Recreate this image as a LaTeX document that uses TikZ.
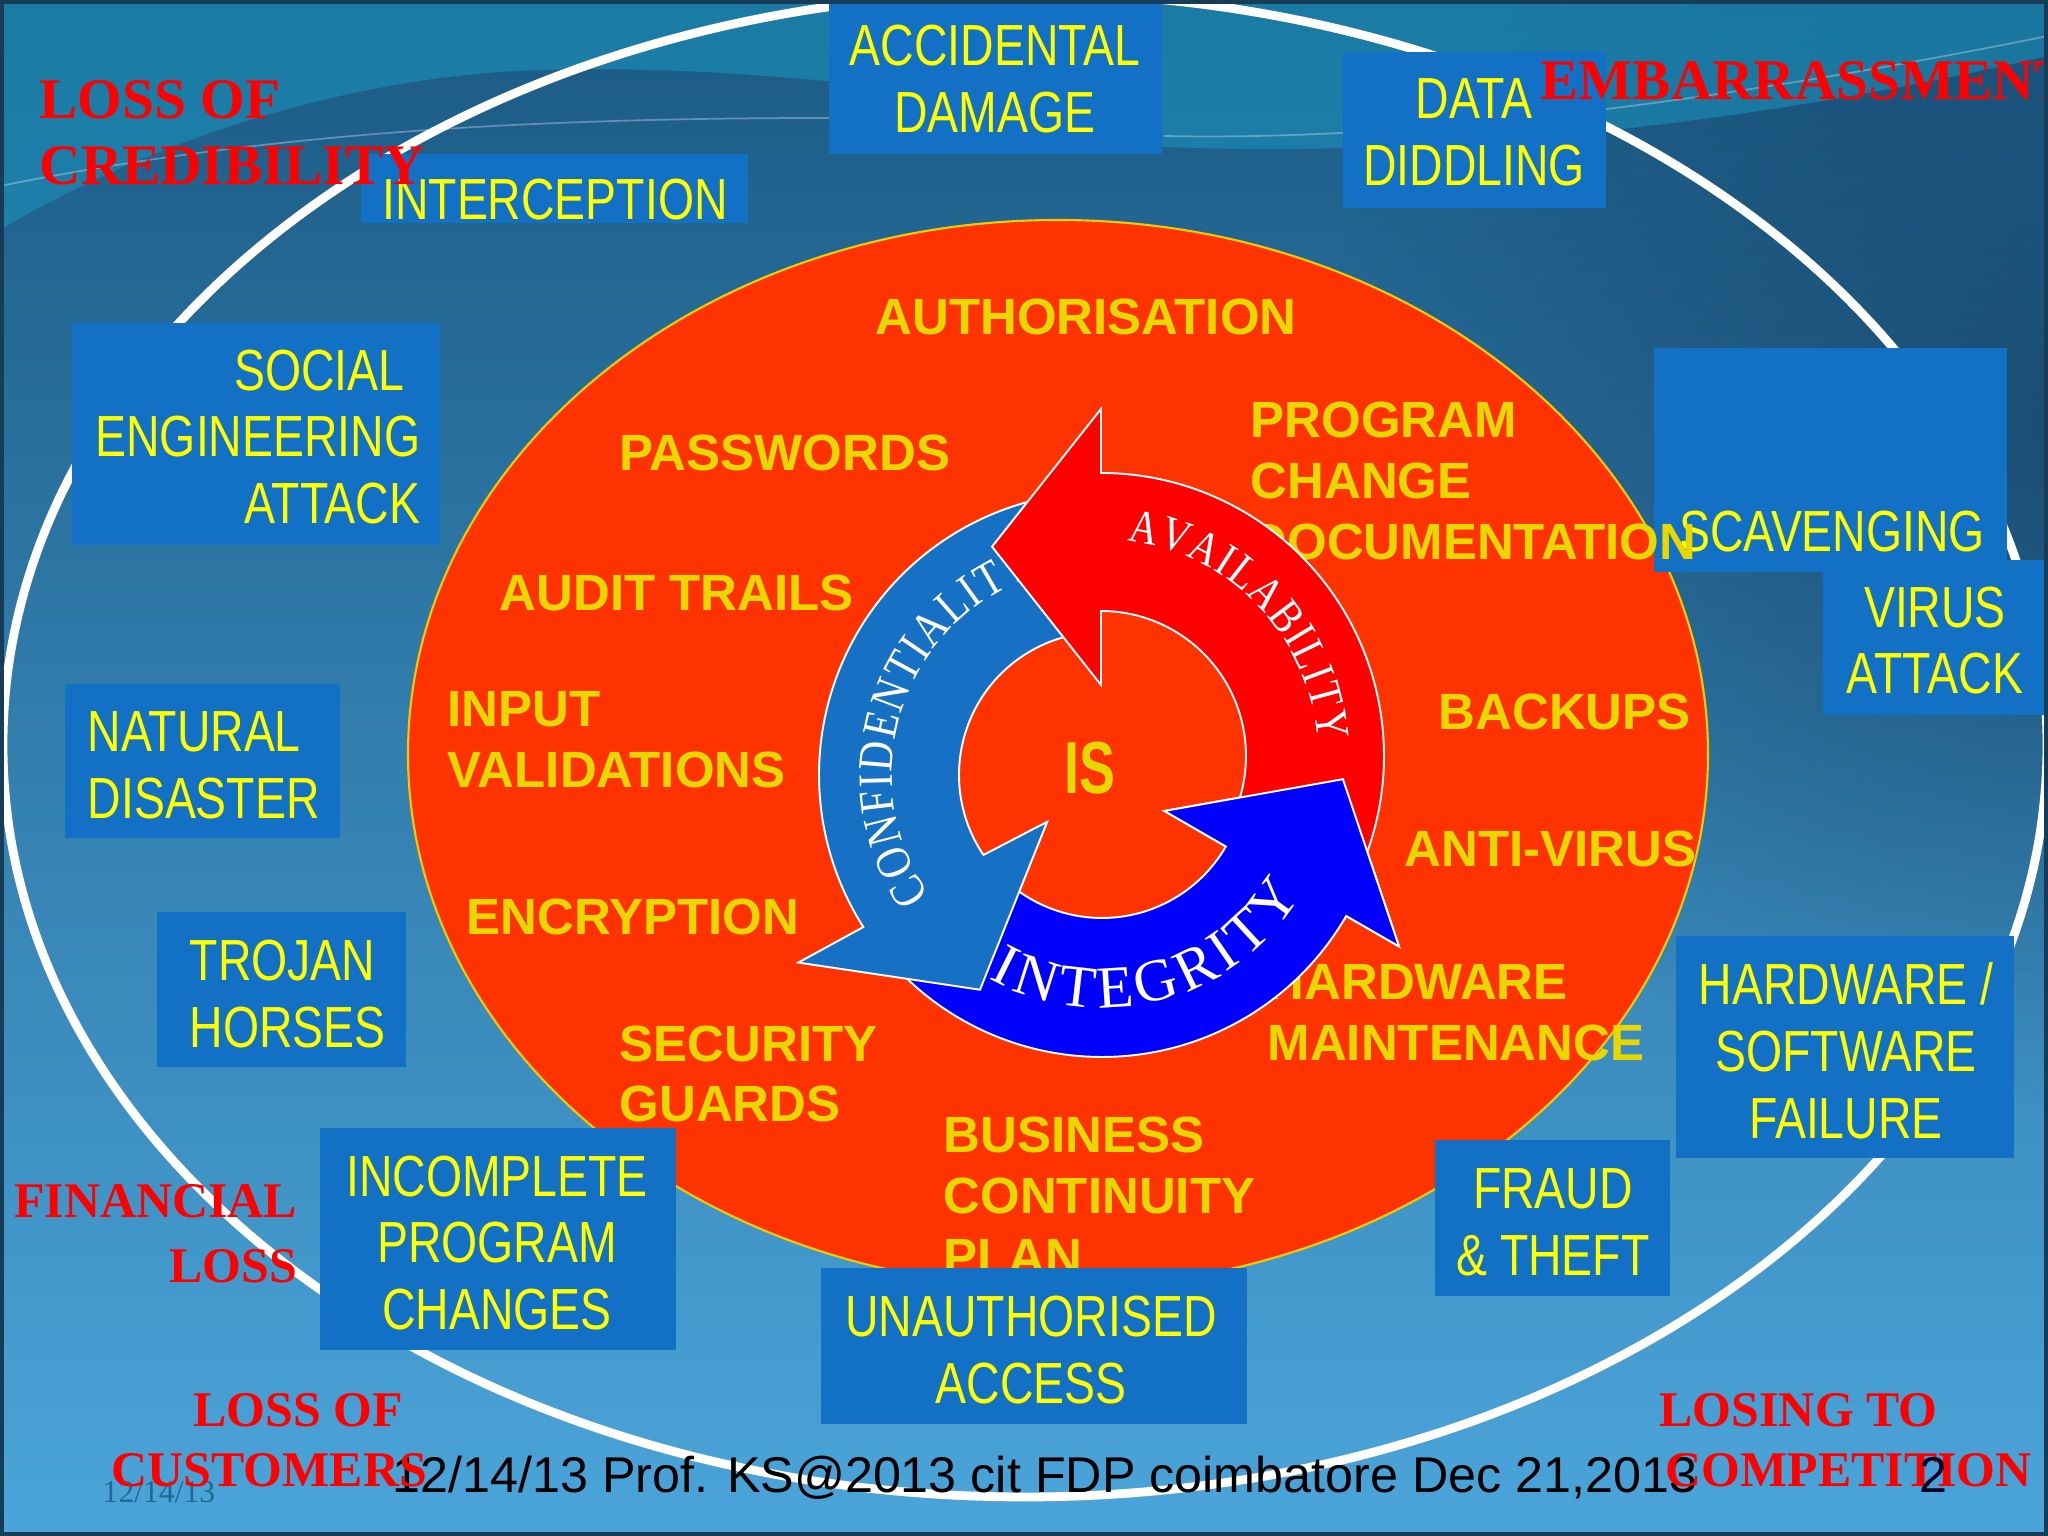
\documentclass[tikz,border=0pt]{standalone}
\usepackage{fontspec}
\usetikzlibrary{decorations.text,fadings}
\newfontfamily\boxfont[FakeStretch=0.8]{Liberation Sans}
\newfontfamily\lblfont{Liberation Sans}
\newfontfamily\redfont{Liberation Serif}
\newfontfamily\isfont[FakeStretch=0.73]{Liberation Sans}
\newfontfamily\arcfont[FakeStretch=0.84]{Liberation Serif}
\newfontfamily\arcfontw{Liberation Serif}
\newcommand\availfont{\arcfont\fontsize{13.5}{13.5}\selectfont}
\newcommand\conffont{\arcfont\fontsize{14}{14}\selectfont}
\newcommand\integfont{\arcfontw\fontsize{17}{17}\selectfont}
\definecolor{bgtop}{HTML}{1B5A84}
\definecolor{bgmid}{HTML}{2A72A0}
\definecolor{bgbot}{HTML}{4BA5DA}
\definecolor{swoosh}{HTML}{1A9BC4}
\definecolor{darkblob}{HTML}{0E2F4F}
\definecolor{boxblue}{HTML}{1270C5}
\definecolor{boxyellow}{HTML}{FFFF00}
\definecolor{lblyellow}{HTML}{E8D800}
\definecolor{orangefill}{HTML}{FF3300}
\definecolor{ovalline}{HTML}{E8D000}
\definecolor{confblue}{HTML}{1670C4}
\definecolor{integblue}{HTML}{0000FF}
\definecolor{redlbl}{HTML}{FF0000}
\definecolor{datecol}{HTML}{1E6A92}
\definecolor{framecol}{HTML}{173C58}
\tikzfading[name=blob, inner color=transparent!45, outer color=transparent!100]
\begin{document}
\begin{tikzpicture}[x=1cm,y=1cm,
  boxfill/.style={fill=boxblue},
  boxtxt/.style={text=boxyellow, font=\boxfont\fontsize{16.5}{19}\selectfont, inner sep=0pt, align=center},
  lbl/.style={text=lblyellow, font=\lblfont\bfseries\fontsize{14.5}{17.3}\selectfont, inner sep=0pt, align=left, anchor=west},
  redbig/.style={text=redlbl, font=\redfont\bfseries\fontsize{16.3}{18.9}\selectfont, inner sep=0pt},
  redsmall/.style={text=redlbl, font=\redfont\bfseries\fontsize{14.2}{18.5}\selectfont, inner sep=0pt},
  arrowline/.style={draw=white, line width=0.55pt, line join=miter},
]
\useasboundingbox (0,0) rectangle (20.48,15.36);
\clip (0,0) rectangle (20.48,15.36);
% ---------- background ----------
\shade[top color=bgtop, middle color=bgmid, bottom color=bgbot] (0,0) rectangle (20.48,15.36);
\fill[darkblob, path fading=blob] (21,10.8) ellipse [x radius=8, y radius=6.5];
\fill[swoosh, fill opacity=0.5] (0,15.36) -- (0,13.06) .. controls (1.4,13.9) and (3.4,14.6) .. (5.4,14.66) .. controls (6.8,14.70) and (7.9,14.58) .. (8.6,14.52) .. controls (10,14.3) and (11,13.9) .. (11.64,13.89) .. controls (14,13.8) and (17,14.0) .. (20.48,14.8) -- (20.48,15.36) -- cycle;
\draw[white, opacity=0.3, line width=0.5pt] (0,13.5) .. controls (2.5,14.0) and (5.0,14.18) .. (8.3,14.18);
\draw[white, opacity=0.3, line width=0.5pt] (11.64,14.0) .. controls (14,13.95) and (17,14.3) .. (20.48,15.0);
% ---------- outer white ellipse ----------
\draw[white, line width=2.5pt] (10.25,7.91) ellipse [x radius=10.22, y radius=7.52];
% ---------- orange ellipse ----------
\draw[ovalline, line width=0.6pt, fill=orangefill] (10.58,7.82) ellipse [x radius=6.50, y radius=5.34];
% ---------- scavenging box ----------
\fill[boxfill] (16.54,11.88) rectangle (20.07,9.64);
\node[boxtxt] (tScav) at (18.32,10.04) {SCAVENGING};
% ---------- controls (orange area labels) ----------
\node[lbl] (lAuth) at (8.75,12.19) {AUTHORISATION};
\node[lbl] (lPass) at (6.19,10.83) {PASSWORDS};
\node[lbl] (lProg) at (12.50,10.55) {PROGRAM\\CHANGE\\DOCUMENTATION};
\node[lbl] (lAudit) at (4.99,9.43) {AUDIT TRAILS};
\node[lbl] (lInput) at (4.47,7.96) {INPUT\\VALIDATIONS};
\node[lbl] (lEnc) at (4.66,6.19) {ENCRYPTION};
\node[lbl] (lSec) at (6.19,4.62) {SECURITY\\GUARDS};
\node[lbl] (lBus) at (9.43,3.40) {BUSINESS\\CONTINUITY\\PLAN};
\node[lbl] (lBack) at (14.38,8.24) {BACKUPS};
\node[lbl] (lAnti) at (14.04,6.87) {ANTI-VIRUS};
\node[lbl] (lHard) at (12.67,5.23) {HARDWARE\\MAINTENANCE};
% ---------- cycle arrows ----------
% integrity
\begin{scope}[shift={(11.02,7.61)}]
\draw[arrowline, fill=integblue] (222:2.82) arc[start angle=222, end angle=330, radius=2.82] -- (330:3.43) -- (359:2.41) -- (330:0.72) -- (330:1.43) arc[start angle=330, end angle=222, radius=1.43] -- cycle;
\path[decorate, decoration={text along path, text={|\integfont\color{white}|INTEGRITY}, text align={fit to path}}] (241:2.33) arc[start angle=241, end angle=329, radius=2.33];
\end{scope}
% confidentiality
\begin{scope}[shift={(11.02,7.61)}]
\draw[arrowline, fill=confblue] (100:2.83) arc[start angle=100, end angle=212.5, radius=2.83] -- (211.7:3.57) -- (240.4:2.47) -- (220.5:0.72) -- (214:1.43) arc[start angle=214, end angle=100, radius=1.43] -- cycle;
\path[decorate, decoration={text along path, text={|\conffont\color{white}|CONFIDENTIALITY}, text align={fit to path}}] (215:2.10) arc[start angle=215, end angle=108, radius=2.10];
\end{scope}
% availability
\begin{scope}[shift={(11.01,7.80)}]
\draw[arrowline, fill=red] (-25:2.83) arc[start angle=-25, end angle=90, radius=2.83] -- (90:3.47) -- (117.5:2.36) -- (90:0.71) -- (90:1.45) arc[start angle=90, end angle=-25, radius=1.45] -- cycle;
\path[decorate, decoration={text along path, text={|\availfont\color{white}|AVAILABILITY}, text align={fit to path}}] (83:2.17) arc[start angle=83, end angle=4, radius=2.17];
\end{scope}
% integrity head again, over the availability tail
\begin{scope}[shift={(11.02,7.61)}]
\clip (329.3:0.4) -- (329.3:3.9) -- (8:3.9) -- (35:1.6) -- (10:0.4) -- cycle;
\draw[arrowline, fill=integblue] (222:2.82) arc[start angle=222, end angle=330, radius=2.82] -- (330:3.43) -- (359:2.41) -- (330:0.72) -- (330:1.43) arc[start angle=330, end angle=222, radius=1.43] -- cycle;
\path[decorate, decoration={text along path, text={|\integfont\color{white}|INTEGRITY}, text align={fit to path}}] (241:2.33) arc[start angle=241, end angle=329, radius=2.33];
\end{scope}
\node[text=lblyellow, font=\isfont\bfseries\fontsize{21}{21}\selectfont, inner sep=0pt] (tIS) at (10.895,7.675) {IS};
% ---------- threat boxes ----------
\fill[boxfill] (8.29,15.40) rectangle (11.62,13.82);
\node[boxtxt] (tAcc) at (9.95,14.57) {ACCIDENTAL\\DAMAGE};
\fill[boxfill] (3.61,13.82) rectangle (7.48,13.13);
\node[boxtxt] (tInt) at (5.55,13.36) {INTERCEPTION};
\fill[boxfill] (13.43,14.84) rectangle (16.06,13.28);
\node[boxtxt] (tData) at (14.74,14.035) {DATA\\DIDDLING};
\fill[boxfill] (0.72,12.13) rectangle (4.40,9.91);
\node[boxtxt, align=right, anchor=east] (tSoc) at (4.21,10.99) {SOCIAL\kern4.5pt\\ENGINEERING\\ATTACK};
\fill[boxfill] (18.23,9.76) rectangle (20.50,8.21);
\node[boxtxt] (tVirus) at (19.35,8.955) {VIRUS\\ATTACK};
\fill[boxfill] (0.65,8.52) rectangle (3.40,6.98);
\node[boxtxt, align=left, anchor=west] (tNat) at (0.87,7.71) {NATURAL\\DISASTER};
\fill[boxfill] (1.57,6.24) rectangle (4.06,4.69);
\node[boxtxt, align=left, anchor=west] (tTro) at (1.89,5.42) {TROJAN\\HORSES};
\fill[boxfill] (3.20,4.08) rectangle (6.76,1.86);
\node[boxtxt] (tInc) at (4.97,2.93) {INCOMPLETE\\PROGRAM\\CHANGES};
\fill[boxfill] (8.21,2.68) rectangle (12.47,1.12);
\node[boxtxt] (tUna) at (10.31,1.86) {UNAUTHORISED\\ACCESS};
\fill[boxfill] (14.35,3.96) rectangle (16.70,2.40);
\node[boxtxt] (tFra) at (15.53,3.14) {FRAUD\\\& THEFT};
\fill[boxfill] (16.76,6.00) rectangle (20.14,3.78);
\node[boxtxt] (tHw) at (18.46,4.85) {HARDWARE /\\SOFTWARE\\FAILURE};
% ---------- footer ----------
\node[anchor=base west, inner sep=0pt, text=datecol, font=\redfont\fontsize{9}{9}\selectfont] (fDate) at (1.02,0.33) {12/14/13};
\node[anchor=base west, inner sep=0pt, text=black, font=\lblfont\fontsize{14.3}{14.3}\selectfont] (fText) at (3.92,0.43) {12/14/13 Prof. KS@2013 cit FDP coimbatore Dec 21,2013};
% ---------- consequences (red) ----------
\node[redbig, align=left, anchor=west] (rCred) at (0.39,14.03) {LOSS OF\\CREDIBILITY};
\node[redbig, anchor=west] (rEmb) at (15.40,14.55) {EMBARRASSMENT};
\node[redsmall, align=right, anchor=east] (rFin) at (2.98,3.02) {FINANCIAL\\LOSS};
\node[redsmall, anchor=west] (rLoss) at (1.93,1.26) {LOSS OF};
\node[redsmall, anchor=west] (rCust) at (1.11,0.66) {CUSTOMERS};
\node[redsmall, anchor=west] (rLose) at (16.59,1.26) {LOSING TO};
\node[redsmall, anchor=west] (rComp) at (16.65,0.66) {COMPETITION};
\node[anchor=base west, inner sep=0pt, text=black!85!blue, font=\lblfont\fontsize{14.3}{14.3}\selectfont] (fPage) at (19.19,0.43) {2};
% ---------- frame ----------
\draw[framecol, line width=1pt] (0.018,0.018) rectangle (20.462,15.342);
\end{tikzpicture}
\end{document}
